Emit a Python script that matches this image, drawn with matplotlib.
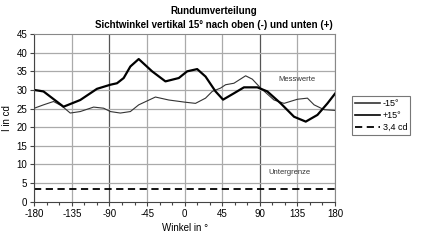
import numpy as np
import matplotlib.pyplot as plt
from matplotlib.ticker import MultipleLocator

plt.rcParams['font.family'] = ['Liberation Sans', 'DejaVu Sans']
plt.rcParams['axes.unicode_minus'] = False

# ------------------------ Data ------------------------ #
# -15 deg (thin line)
minus_x = [-180, -169, -157, -147, -137, -125, -109, -97, -89, -77, -65, -55,
           -35, -19, 1, 13, 25, 33, 43, 49, 59, 73, 81, 91, 107, 119, 135, 147,
           155, 167, 180]
minus_y = [25.1, 26.0, 26.9, 25.7, 23.8, 24.2, 25.4, 25.1, 24.2, 23.8, 24.2, 26.0,
           28.1, 27.3, 26.7, 26.4, 27.8, 29.6, 30.5, 31.4, 31.8, 33.8, 32.9, 30.5,
           27.3, 26.4, 27.5, 27.8, 26.0, 24.7, 24.5]

# +15 deg (thick line)
plus_x = [-180, -169, -145, -125, -105, -89, -81, -73, -65, -55, -39, -23, -7,
          3, 15, 25, 37, 46, 59, 71, 87, 99, 115, 131, 145, 159, 171, 180]
plus_y = [30.0, 29.6, 25.5, 27.3, 30.3, 31.4, 31.8, 33.2, 36.3, 38.3, 35.0, 32.3,
          33.2, 35.0, 35.6, 33.6, 29.6, 27.4, 29.1, 30.7, 30.7, 29.6, 26.4, 22.8,
          21.5, 23.3, 26.4, 29.0]

limit = 3.4
xticks = [-180, -135, -90, -45, 0, 45, 90, 135, 180]

# ------------------------ Plot ------------------------ #
fig = plt.figure(figsize=(4.21, 2.40), dpi=100)
ax = fig.add_axes([0.0815, 0.1596, 0.7142, 0.6984])

for x in xticks:
  c = '#555555' if abs(x) == 90 else '#aaaaaa'
  ax.axvline(x, color=c, lw=0.9, zorder=0)
for y in range(5, 45, 5):
  ax.axhline(y, color='#aaaaaa', lw=0.9, zorder=0)

ax.plot(minus_x, minus_y, color='#333333', lw=0.8, label='-15°')
ax.plot(plus_x, plus_y, color='black', lw=1.6, label='+15°')
ax.axhline(limit, color='black', lw=1.3, ls=(0, (4, 2.5)), label='3,4 cd')

ax.text(135, 32.9, 'Messwerte', fontsize=5.5, ha='center', va='center', color='#333333')
ax.text(126, 7.8, 'Untergrenze', fontsize=5.5, ha='center', va='center', color='#333333')

ax.set_xlim(-180, 180)
ax.set_ylim(0, 45)
ax.set_xticks(xticks)
ax.xaxis.set_minor_locator(MultipleLocator(15))
ax.set_yticks(range(0, 50, 5))
ax.tick_params(axis='both', labelsize=7, length=3, width=0.8, color='#444444', pad=2)
ax.tick_params(axis='x', which='minor', length=2, width=0.8, color='#444444')
ax.set_xlabel('Winkel in °', fontsize=7, labelpad=3)
ax.set_ylabel('I in cd', fontsize=7, labelpad=3)
for s in ['top', 'right']:
  ax.spines[s].set_color('#888888')
for s in ['left', 'bottom']:
  ax.spines[s].set_color('#444444')

fig.text(0.507, 0.975, 'Rundumverteilung', fontsize=7, fontweight='bold', ha='center', va='top')
fig.text(0.507, 0.915, 'Sichtwinkel vertikal 15° nach oben (-) und unten (+)', fontsize=7,
         fontweight='bold', ha='center', va='top')

leg = ax.legend(loc='upper left', bbox_to_anchor=(1.055, 0.63), fontsize=6.5, frameon=True,
                fancybox=False, edgecolor='#555555', handlelength=2.8, borderpad=0.35,
                labelspacing=0.3, handletextpad=0.3, borderaxespad=0)
leg.get_frame().set_linewidth(0.8)
leg.get_lines()[0].set_linewidth(1.2)
leg.get_lines()[1].set_linewidth(1.2)

fig.savefig('out.png', dpi=100)
